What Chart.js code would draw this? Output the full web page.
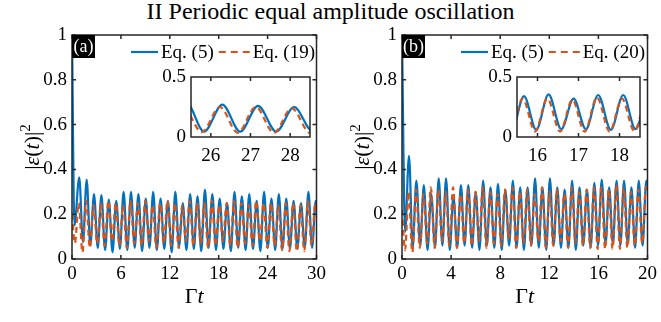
<!DOCTYPE html>
<html><head><meta charset="utf-8">
<script src="https://cdn.jsdelivr.net/npm/chart.js@4.4.0/dist/chart.umd.min.js"></script>
<style>
html,body{margin:0;padding:0;background:#fff;width:661px;height:322px;overflow:hidden;}
canvas{position:absolute;}
#title{position:absolute;left:0;top:-2px;width:661px;text-align:center;font:24px "Liberation Serif";color:#000;line-height:26px;white-space:nowrap;}
</style></head><body>
<div id="title">II Periodic equal amplitude oscillation</div>
<canvas id="ca" width="330" height="322" style="left:0;top:0"></canvas>
<canvas id="cb" width="331" height="322" style="left:330px;top:0"></canvas>
<canvas id="ia" width="175" height="110" style="left:145px;top:60px"></canvas>
<canvas id="ib" width="180" height="110" style="left:470px;top:60px"></canvas>
<script>
// ---------- data (extrema) ----------
const tBlueA = [0, 0.30,
0.89, 1.34, 1.80, 2.25, 2.70, 3.16, 3.61, 4.06, 4.52, 4.97,
5.43, 5.88, 6.33, 6.79, 7.24, 7.69, 8.15, 8.60, 9.05, 9.51,
9.96, 10.41, 10.87, 11.32, 11.77, 12.23, 12.68, 13.14, 13.59, 14.04,
14.50, 14.95, 15.40, 15.86, 16.31, 16.76, 17.22, 17.67, 18.12, 18.58,
19.03, 19.49, 19.94, 20.39, 20.84, 21.30, 21.75, 22.21, 22.66, 23.11,
23.57, 24.02, 24.47, 24.93, 25.38, 25.83, 26.29, 26.74, 27.19, 27.65,
28.10, 28.56, 29.01, 29.46, 29.91, 30];
const blueA = [1.0, 0.15,
.365,.075, .355,.06, .29,.05, .285,.04, .265,.03,
.26,.045, .30,.04, .30,.05, .29,.035, .27,.05,
.30,.04, .27,.045, .26,.03, .30,.05, .25,.04,
.29,.045, .28,.035, .31,.05, .29,.04, .27,.045,
.25,.035, .30,.05, .28,.04, .29,.045, .26,.035,
.30,.05, .27,.04, .29,.045, .27,.045, .26,.045,
.25,.05, .30,.05, .26, .23];
const tOrangeA = [0, 0.35,
0.83, 1.28, 1.74, 2.19, 2.64, 3.10, 3.55, 4.00, 4.46, 4.91,
5.37, 5.82, 6.27, 6.73, 7.18, 7.63, 8.09, 8.54, 8.99, 9.45,
9.90, 10.35, 10.81, 11.26, 11.71, 12.17, 12.62, 13.08, 13.53, 13.98,
14.44, 14.89, 15.34, 15.80, 16.25, 16.70, 17.16, 17.61, 18.06, 18.52,
18.97, 19.43, 19.88, 20.33, 20.78, 21.24, 21.69, 22.15, 22.60, 23.05,
23.51, 23.96, 24.41, 24.87, 25.32, 25.77, 26.23, 26.68, 27.13, 27.59,
28.04, 28.50, 28.95, 29.40, 29.85, 30];
const orangeA = [0.20, 0.07,
.25,.03, .26,.05, .24,.07, .25,.06, .26,.08,
.25,.06, .24,.05, .26,.07, .25,.06, .26,.08,
.24,.05, .25,.07, .26,.06, .25,.05, .24,.08,
.26,.06, .25,.07, .25,.05, .26,.06, .24,.08,
.25,.06, .26,.05, .25,.07, .24,.06, .26,.08,
.25,.05, .25,.06, .24,.04, .25,.035, .25,.035,
.24,.035, .26,.06, .25, .22];

const tBlueB = [0, 0.25,
0.57, 0.87, 1.17, 1.48, 1.78, 2.08, 2.38, 2.69, 2.99, 3.29,
3.59, 3.89, 4.19, 4.50, 4.80, 5.10, 5.40, 5.71, 6.01, 6.31,
6.61, 6.91, 7.21, 7.52, 7.82, 8.12, 8.42, 8.73, 9.03, 9.33,
9.63, 9.93, 10.23, 10.54, 10.84, 11.14, 11.44, 11.75, 12.05, 12.35,
12.65, 12.95, 13.25, 13.56, 13.86, 14.16, 14.46, 14.77, 15.07, 15.37,
15.67, 15.97, 16.27, 16.58, 16.88, 17.18, 17.48, 17.79, 18.09, 18.39,
18.69, 18.99, 19.29, 19.60, 19.90, 20];
const blueB = [1.0, 0.12,
.46,.05, .35,.06, .33,.04, .29,.05, .36,.06,
.36,.04, .28,.05, .33,.06, .33,.05, .30,.04,
.35,.06, .32,.05, .335,.04, .31,.06, .35,.05,
.32,.04, .32,.06, .36,.05, .32,.04, .36,.06,
.32,.05, .31,.05, .35,.04, .32,.06, .31,.05,
.34,.06, .355,.065, .32,.065, .35,.06, .35,.065,
.32,.05, .35,.06, .35, .33];
const tOrangeB = [0, 0.25,
0.54, 0.84, 1.14, 1.45, 1.75, 2.05, 2.35, 2.66, 2.96, 3.26,
3.56, 3.86, 4.16, 4.47, 4.77, 5.07, 5.37, 5.68, 5.98, 6.28,
6.58, 6.88, 7.18, 7.49, 7.79, 8.09, 8.39, 8.70, 9.00, 9.30,
9.60, 9.90, 10.20, 10.51, 10.81, 11.11, 11.41, 11.72, 12.02, 12.32,
12.62, 12.92, 13.22, 13.53, 13.83, 14.13, 14.43, 14.74, 15.04, 15.34,
15.64, 15.94, 16.24, 16.55, 16.85, 17.15, 17.45, 17.76, 18.06, 18.36,
18.66, 18.96, 19.26, 19.57, 19.87, 20];
const orangeB = [0.22, 0.04,
.30,.03, .31,.05, .29,.07, .32,.05, .31,.08,
.30,.06, .32,.05, .29,.07, .31,.06, .30,.08,
.32,.05, .30,.07, .29,.06, .31,.09, .32,.05,
.30,.07, .31,.06, .29,.08, .32,.05, .30,.06,
.31,.08, .29,.05, .32,.07, .30,.06, .31,.05,
.32,.045, .32,.045, .31,.045, .33,.045, .32,.05,
.30,.06, .31,.07, .32, .30];

const yTicksMain = [0, 0.2, 0.4, 0.6, 0.8, 1];
const xTicksA = [0, 6, 12, 18, 24, 30];
const xTicksB = [0, 4, 8, 12, 16, 20];
const yTicksInset = [0, 0.5];
const xTicksInsetA = [26, 27, 28];
const xTicksInsetB = [16, 17, 18];
const legendA = ['Eq. (5)', 'Eq. (19)'];
const legendB = ['Eq. (5)', 'Eq. (20)'];

// ---------- styling ----------
const BLUE = '#0072BD', ORANGE = '#D95319', INK = '#262626';
const FONT = '"Liberation Serif"';

function zip(t, v) { return t.map((x, i) => ({x: x, y: v[i]})); }

function drawRich(ctx, segs, size, x, y, rotate) {
  ctx.save();
  ctx.translate(x, y);
  if (rotate) ctx.rotate(-Math.PI / 2);
  let total = 0;
  const parts = segs.map(s => {
    const f = (s.i ? 'italic ' : '') + (s.sup ? Math.round(size * 0.7) : size) + 'px ' + FONT;
    ctx.font = f;
    const w = ctx.measureText(s.t).width;
    total += w;
    return {s, f, w};
  });
  let cx = -total / 2;
  ctx.textBaseline = 'middle'; ctx.textAlign = 'left'; ctx.fillStyle = '#000';
  parts.forEach(p => { ctx.font = p.f; ctx.fillText(p.s.t, cx, p.s.sup ? -size * 0.33 : 0); cx += p.w; });
  ctx.restore();
}

function boxAndTicks(chart, len, doY) {
  const ctx = chart.ctx, ca = chart.chartArea, xs = chart.scales.x, ys = chart.scales.y;
  ctx.save();
  ctx.strokeStyle = INK; ctx.lineWidth = 1.5; ctx.setLineDash([]);
  ctx.beginPath();
  xs.ticks.forEach(t => {
    const px = xs.getPixelForValue(t.value);
    ctx.moveTo(px, ca.bottom); ctx.lineTo(px, ca.bottom - len);
    ctx.moveTo(px, ca.top); ctx.lineTo(px, ca.top + len);
  });
  if (doY) ys.ticks.forEach(t => {
    const py = ys.getPixelForValue(t.value);
    ctx.moveTo(ca.left, py); ctx.lineTo(ca.left + len, py);
    ctx.moveTo(ca.right, py); ctx.lineTo(ca.right - len, py);
  });
  ctx.stroke();
  ctx.strokeRect(ca.left, ca.top, ca.right - ca.left, ca.bottom - ca.top);
  ctx.restore();
}

function mainPlugin(panel, labels, yTitleX) {
  return {
    id: 'main' + panel,
    afterDraw(chart) {
      const ctx = chart.ctx, ca = chart.chartArea;
      boxAndTicks(chart, 4, true);
      // panel label
      ctx.save();
      ctx.fillStyle = '#000';
      ctx.fillRect(ca.left, ca.top, 23, 23);
      ctx.fillStyle = '#fff'; ctx.font = '18px ' + FONT; ctx.textAlign = 'center'; ctx.textBaseline = 'middle';
      ctx.fillText('(' + panel + ')', ca.left + 11.5, ca.top + 12);
      // legend
      const ds = chart.data.datasets;
      let x = ca.left + 59; const y = ca.top + 17;
      ctx.lineWidth = 2.2;
      ctx.strokeStyle = ds[0].borderColor; ctx.setLineDash([]);
      ctx.beginPath(); ctx.moveTo(x, y); ctx.lineTo(x + 27, y); ctx.stroke();
      x += 30;
      ctx.font = '19px ' + FONT; ctx.fillStyle = '#000'; ctx.textAlign = 'left';
      ctx.fillText(labels[0], x, y + 1);
      x += ctx.measureText(labels[0]).width + 5;
      ctx.strokeStyle = ds[1].borderColor; ctx.setLineDash([7, 5]);
      ctx.beginPath(); ctx.moveTo(x, y); ctx.lineTo(x + 31, y); ctx.stroke();
      ctx.setLineDash([]);
      x += 34;
      ctx.fillText(labels[1], x, y + 1);
      ctx.restore();
      // axis titles
      drawRich(ctx, [{t: 'Γ'}, {t: 't', i: true}], 22, (ca.left + ca.right) / 2, 297, false);
      drawRich(ctx, [{t: '|'}, {t: 'ε', i: true}, {t: '('}, {t: 't', i: true}, {t: ')|'}, {t: '2', sup: true}], 22, yTitleX, (ca.top + ca.bottom) / 2, true);
    }
  };
}
const insetPlugin = { id: 'inset', afterDraw(chart) { boxAndTicks(chart, 4, false); } };

function ticksFrom(arr) { return s => { s.ticks = arr.map(v => ({value: v})); }; }

function datasets(tb, vb, to, vo, lbl) {
  return [
    {label: lbl[0], data: zip(tb, vb), borderColor: BLUE, borderWidth: 2.2, pointRadius: 0, cubicInterpolationMode: 'monotone', order: 2},
    {label: lbl[1], data: zip(to, vo), borderColor: ORANGE, borderWidth: 2.2, borderDash: [6, 4], pointRadius: 0, cubicInterpolationMode: 'monotone', order: 1}
  ];
}

function makeChart(id, ds, xmin, xmax, xt, ymax, yt, sizes, plugin) {
  const tickFont = {family: FONT, size: 19};
  return new Chart(document.getElementById(id), {
    type: 'line',
    data: {datasets: ds},
    options: {
      responsive: false, animation: false, devicePixelRatio: 1,
      font: {family: FONT},
      layout: {padding: {top: sizes.top, right: sizes.right, left: 0, bottom: 0}},
      plugins: {legend: {display: false}, tooltip: {enabled: false}, title: {display: false}},
      scales: {
        x: {type: 'linear', min: xmin, max: xmax, afterBuildTicks: ticksFrom(xt),
            ticks: {font: tickFont, color: '#000', padding: sizes.xpad, maxRotation: 0, autoSkip: false, callback: v => String(v)},
            grid: {display: false, drawTicks: false}, border: {display: false},
            afterFit(s) { s.height = sizes.xh; }},
        y: {type: 'linear', min: 0, max: ymax, afterBuildTicks: ticksFrom(yt),
            ticks: {font: tickFont, color: '#000', padding: 5, autoSkip: false, callback: v => String(v)},
            grid: {display: false, drawTicks: false}, border: {display: false},
            afterFit(s) { s.width = sizes.yw; }}
      }
    },
    plugins: [plugin]
  });
}

function build() {
  Chart.defaults.font.family = FONT;
  makeChart('ca', datasets(tBlueA, blueA, tOrangeA, orangeA, legendA), 0, 30, xTicksA, 1, yTicksMain,
    {top: 35, right: 11, xh: 63, yw: 72, xpad: 4}, mainPlugin('a', legendA, 33));
  makeChart('cb', datasets(tBlueB, blueB, tOrangeB, orangeB, legendB), 0, 20, xTicksB, 1, yTicksMain,
    {top: 35, right: 12, xh: 63, yw: 72, xpad: 4}, mainPlugin('b', legendB, 33));
  makeChart('ia', datasets(tBlueA, blueA, tOrangeA, orangeA, legendA), 25.5, 28.5, xTicksInsetA, 0.5, yTicksInset,
    {top: 17, right: 10, xh: 33, yw: 46, xpad: 8}, insetPlugin);
  makeChart('ib', datasets(tBlueB, blueB, tOrangeB, orangeB, legendB), 15.5, 18.5, xTicksInsetB, 0.5, yTicksInset,
    {top: 17, right: 10, xh: 33, yw: 47, xpad: 8}, insetPlugin);
}
Promise.all([
  document.fonts.load('19px "Liberation Serif"'),
  document.fonts.load('italic 22px "Liberation Serif"')
]).then(build, build);
</script>
</body></html>
